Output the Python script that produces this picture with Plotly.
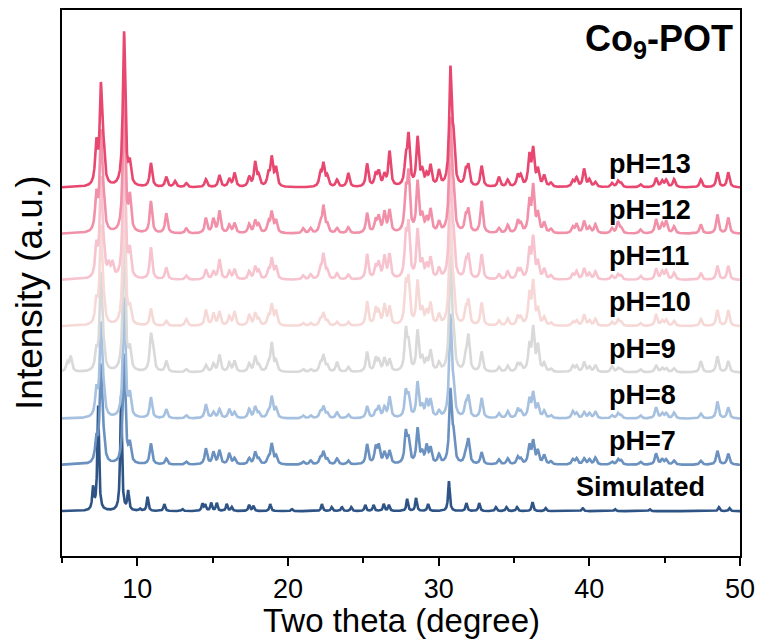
import numpy as np
import plotly.graph_objects as go

# ---- data ----
# peak positions (2theta, degree) shared by the measured patterns
PEAK_POS = [5.35, 5.58, 7.28, 7.58, 7.75, 8.10, 8.35, 9.12, 9.50, 10.90,
            11.05, 11.92, 12.50, 13.25, 14.55, 15.05, 15.45, 16.10, 16.45, 17.42,
            17.82, 18.05, 18.70, 18.92, 19.20, 21.00, 21.50, 22.15, 22.35, 22.60,
            23.25, 24.00, 25.25, 25.82, 26.02, 26.40, 26.74, 27.82, 28.00, 28.60,
            28.90, 29.20, 29.46, 30.02, 30.78, 30.98, 31.80, 31.97, 32.85, 34.00,
            34.58, 35.25, 35.45, 36.02, 36.27, 36.58, 37.00, 37.45, 38.90, 39.15,
            39.65, 40.00, 40.40, 41.50, 41.90, 42.10, 43.40, 44.43, 44.83, 45.10,
            45.62, 47.40, 48.50, 49.22]

H_PH13 = [0, 0, 40, 95, 28, 0, 0, 155, 20, 24, 0, 10, 6, 4, 8, 0, 12, 8, 14, 10,
          24, 10, 12, 28, 18, 0, 0, 12, 22, 10, 7, 14, 23, 12, 14, 11, 35, 26, 48, 48,
          14, 10, 20, 15, 114, 40, 15, 19, 21, 10, 7, 11, 10, 30, 36, 16, 11, 4, 6, 9,
          18, 7, 5, 4, 6, 4, 3, 9, 6, 7, 8, 8, 15, 15]
H_PH12 = [0, 0, 35, 95, 25, 0, 0, 140, 33, 32, 0, 20, 0, 5, 15, 14, 22, 8, 10, 9,
          12, 8, 10, 20, 12, 5, 5, 10, 26, 8, 5, 6, 20, 12, 15, 20, 22, 38, 55, 50,
          15, 12, 22, 10, 110, 35, 15, 21, 32, 5, 8, 12, 8, 30, 45, 18, 10, 4, 6, 9,
          12, 6, 9, 5, 11, 5, 4, 14, 9, 12, 7, 9, 19, 16]
H_PH11 = [0, 0, 30, 95, 22, 12, 14, 140, 26, 32, 0, 12, 0, 4, 10, 8, 20, 8, 10, 8,
          12, 8, 8, 20, 12, 4, 5, 10, 24, 8, 6, 5, 25, 12, 15, 22, 24, 40, 50, 48,
          15, 12, 20, 10, 110, 35, 15, 22, 25, 5, 8, 10, 8, 28, 40, 16, 10, 4, 5, 8,
          11, 6, 8, 4, 5, 4, 4, 11, 8, 9, 7, 7, 14, 14]
H_PH10 = [0, 0, 22, 95, 18, 0, 0, 140, 15, 17, 0, 5, 0, 7, 16, 12, 14, 9, 14, 11,
          12, 6, 8, 20, 14, 3, 3, 6, 12, 5, 4, 4, 24, 16, 12, 20, 18, 38, 42, 43,
          14, 12, 21, 10, 110, 30, 14, 23, 23, 5, 7, 9, 7, 30, 42, 15, 8, 3, 4, 5,
          11, 5, 7, 4, 6, 4, 3, 11, 5, 6, 5, 7, 16, 16]
H_PH9 = [9, 15, 18, 95, 16, 0, 0, 140, 20, 34, 18, 11, 0, 3, 7, 8, 17, 9, 11, 8,
         15, 6, 8, 28, 10, 3, 3, 8, 16, 6, 10, 5, 20, 13, 10, 13, 12, 40, 25, 40,
         12, 10, 20, 8, 112, 30, 15, 34, 20, 5, 6, 8, 6, 25, 42, 25, 8, 3, 6, 6,
         10, 5, 7, 6, 4, 3, 3, 7, 4, 4, 4, 11, 16, 11]
H_PH8 = [0, 0, 25, 90, 20, 0, 0, 120, 21, 21, 0, 9, 0, 3, 14, 6, 9, 9, 6, 9,
         11, 5, 6, 21, 9, 3, 3, 6, 11, 5, 6, 4, 12, 6, 11, 10, 21, 25, 20, 35,
         10, 16, 17, 6, 100, 25, 12, 20, 20, 5, 7, 9, 6, 18, 24, 13, 7, 3, 7, 5,
         6, 5, 7, 3, 5, 3, 3, 11, 5, 5, 6, 5, 17, 11]
H_PH7 = [0, 0, 22, 95, 18, 0, 0, 110, 18, 21, 0, 6, 0, 3, 16, 12, 14, 11, 6, 6,
         12, 5, 6, 20, 8, 3, 4, 6, 12, 5, 6, 4, 20, 16, 17, 11, 13, 30, 22, 35,
         10, 17, 15, 9, 72, 25, 12, 23, 12, 5, 6, 7, 5, 18, 22, 13, 9, 3, 5, 6,
         6, 5, 7, 3, 5, 4, 3, 11, 5, 5, 4, 4, 14, 11]

# simulated pattern
SIM_POS = [7.06, 7.40, 8.92, 9.39, 10.17, 10.68, 11.79, 12.99, 14.32, 14.50,
           14.90, 15.27, 15.93, 16.26, 17.42, 17.70, 18.82, 20.26, 22.25, 22.90,
           23.58, 24.20, 25.13, 25.68, 26.35, 26.70, 27.91, 28.50, 29.30, 30.68,
           31.84, 32.69, 33.80, 34.50, 35.20, 36.23, 37.10, 39.56, 41.70, 44.00,
           48.60, 49.30]
SIM_H = [22, 105, 115, 19, 2, 14, 7, 2, 7, 6, 8, 8, 7, 4, 6, 5, 7, 2, 7, 4,
         4, 4, 6, 6, 7, 6, 12, 13, 7, 30, 8, 8, 4, 4, 4, 9, 3, 3, 2, 2, 4, 3]

LABELS = ["Simulated", "pH=7", "pH=8", "pH=9", "pH=10", "pH=11", "pH=12", "pH=13"]
COLORS = ["#2E5385", "#6A91BF", "#A6C1DF", "#D9D9D9", "#F6D9D6", "#F7C3CE", "#F190A8", "#E8476F"]

X_TICKS = [10, 20, 30, 40, 50]

# ---- build profiles ----
tt = np.linspace(5, 50, 4501)


def profile(pos, heights, fwhm):
    y = np.zeros_like(tt)
    g = fwhm / 2.0
    for p, h in zip(pos, heights):
        if h > 0:
            y += h * g * g / ((tt - p) ** 2 + g * g)
    return y


series = [(SIM_POS, SIM_H, 0.13)] + [
    (PEAK_POS, h, 0.19) for h in [H_PH7, H_PH8, H_PH9, H_PH10, H_PH11, H_PH12, H_PH13]
]

BASE0 = 45
STEP = 46.4
FONT = "Arial, Liberation Sans, sans-serif"

fig = go.Figure()
for i, ((pos, hts, w), lab, col) in enumerate(zip(series, LABELS, COLORS)):
    off = BASE0 + i * STEP
    fig.add_trace(go.Scatter(x=tt, y=profile(pos, hts, w) + off, mode="lines",
                             line=dict(color=col, width=2.6), name=lab,
                             showlegend=False, hoverinfo="skip"))
    fig.add_annotation(x=41.2 if lab != "Simulated" else 39.0, y=off + 24,
                       xref="x", yref="y", text="<b>%s</b>" % lab, showarrow=False,
                       xanchor="left", yanchor="middle",
                       font=dict(family=FONT, size=27, color="black"))

fig.add_annotation(x=49.7, y=517, xref="x", yref="y",
                   text="<b>Co<sub>9</sub>-POT</b>", showarrow=False,
                   xanchor="right", yanchor="middle",
                   font=dict(family=FONT, size=36, color="black"))

# axis titles placed as paper annotations
fig.add_annotation(x=0.5, y=-0.119, xref="paper", yref="paper",
                   text="Two theta (degree)", showarrow=False,
                   xanchor="center", yanchor="middle",
                   font=dict(family=FONT, size=33, color="black"))
fig.add_annotation(x=-0.047, y=0.482, xref="paper", yref="paper",
                   text="Intensity (a.u.)", showarrow=False, textangle=-90,
                   xanchor="center", yanchor="middle",
                   font=dict(family=FONT, size=37, color="black"))

fig.update_layout(
    width=763, height=644,
    margin=dict(l=62, r=22, t=8, b=88),
    plot_bgcolor="white", paper_bgcolor="white",
    font=dict(family=FONT, color="black"),
)
fig.update_xaxes(range=[5, 50], tickvals=X_TICKS, ticks="outside", ticklen=8, tickwidth=2,
                 tickcolor="black", showline=True, linewidth=2, linecolor="black",
                 mirror=True, showgrid=False, zeroline=False,
                 minor=dict(ticks="outside", tickvals=[5, 15, 25, 35, 45], ticklen=5,
                            tickwidth=2, tickcolor="black"),
                 tickfont=dict(size=27), ticklabelstandoff=0)
fig.update_yaxes(range=[0, 548], showticklabels=False, ticks="", showline=True,
                 linewidth=2, linecolor="black", mirror=True, showgrid=False,
                 zeroline=False)

fig.write_html("out.html")
